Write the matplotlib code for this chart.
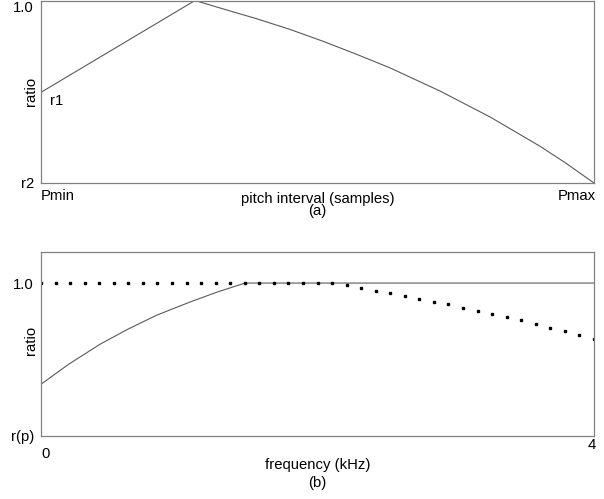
import numpy as np
import matplotlib
matplotlib.use('Agg')
import matplotlib.pyplot as plt

plt.rcParams['font.family'] = ['Liberation Sans', 'DejaVu Sans']
plt.rcParams['font.size'] = 10.7

# (a) ratio vs pitch interval (Pmin=0, Pmax=1 ; r2=0, 1.0=1)
pitch_pos = [0.0, 0.2785, 0.3297, 0.390, 0.4503, 0.5105, 0.5709, 0.631,
             0.7215, 0.812, 0.902, 0.9476, 1.0]
ratio_a = [0.497, 1.0, 0.9536, 0.900, 0.8415, 0.776, 0.7049, 0.631,
           0.504, 0.362, 0.202, 0.112, 0.0]

# (b) ratio vs frequency (kHz) ; r(p)=0, 1.0=1
freq_solid = [0.0, 0.198, 0.427, 0.632, 0.837, 1.078, 1.271, 1.476, 4.0]
ratio_solid = [0.338, 0.468, 0.600, 0.700, 0.790, 0.876, 0.940, 1.0, 1.0]
ratio_dots = [1.0] * 21 + [0.989, 0.969, 0.950, 0.933, 0.915, 0.895, 0.878,
                           0.861, 0.837, 0.817, 0.797, 0.776, 0.756, 0.730,
                           0.708, 0.686, 0.660, 0.634]
freq_dots = np.linspace(0, 4, len(ratio_dots))

W, H = 604, 499
fig = plt.figure(figsize=(W / 100, H / 100), dpi=100)

def px(x, y):
    return x / W, 1 - y / H

line_c = '#5a5a5a'
frame_c = '#808080'

# panel (a)
ax1 = fig.add_axes([41 / W, (H - 183) / H, 553 / W, 182.5 / H])
ax1.plot(pitch_pos, ratio_a, color=line_c, lw=0.8)
ax1.set_xlim(0, 1)
ax1.set_ylim(0, 1)
ax1.set_yticks([0, 1])
ax1.set_yticklabels(['r2', '1.0'])
ax1.get_yticklabels()[1].set_va('top')
ax1.set_xticks([])
ax1.tick_params(length=0, pad=5)
for s in ax1.spines.values():
    s.set_color(frame_c)
    s.set_linewidth(0.9)
ax1.text(0.0163, 0.426, 'r1', transform=ax1.transAxes, va='baseline', ha='left')
fig.text(*px(31, 91), 'ratio', rotation=90, ha='center', va='center')
fig.text(*px(41, 200), 'Pmin', ha='left', va='baseline')
fig.text(*px(596, 200), 'Pmax', ha='right', va='baseline')
fig.text(*px(317.5, 202.5), 'pitch interval (samples)', ha='center', va='baseline')
fig.text(*px(317.5, 215.5), '(a)', ha='center', va='baseline')

# panel (b)
ax2 = fig.add_axes([41 / W, (H - 436) / H, 553 / W, 184 / H])
ax2.plot(freq_solid, ratio_solid, color=line_c, lw=0.8)
ax2.plot(freq_dots, ratio_dots, ls='none', marker='s', ms=2.0, color='black')
ax2.set_xlim(0, 4)
ax2.set_ylim(0, 1.203)
ax2.set_yticks([0, 1])
ax2.set_yticklabels(['r(p)', '1.0'])
ax2.set_xticks([])
ax2.tick_params(length=0, pad=5)
for s in ax2.spines.values():
    s.set_color(frame_c)
    s.set_linewidth(0.9)
fig.text(*px(31, 340), 'ratio', rotation=90, ha='center', va='center')
fig.text(*px(46, 457.5), '0', ha='center', va='baseline')
fig.text(*px(591.5, 449), '4', ha='center', va='baseline')
fig.text(*px(317.5, 469.5), 'frequency (kHz)', ha='center', va='baseline')
fig.text(*px(317.5, 487.5), '(b)', ha='center', va='baseline')

fig.savefig('out.png', dpi=100)
